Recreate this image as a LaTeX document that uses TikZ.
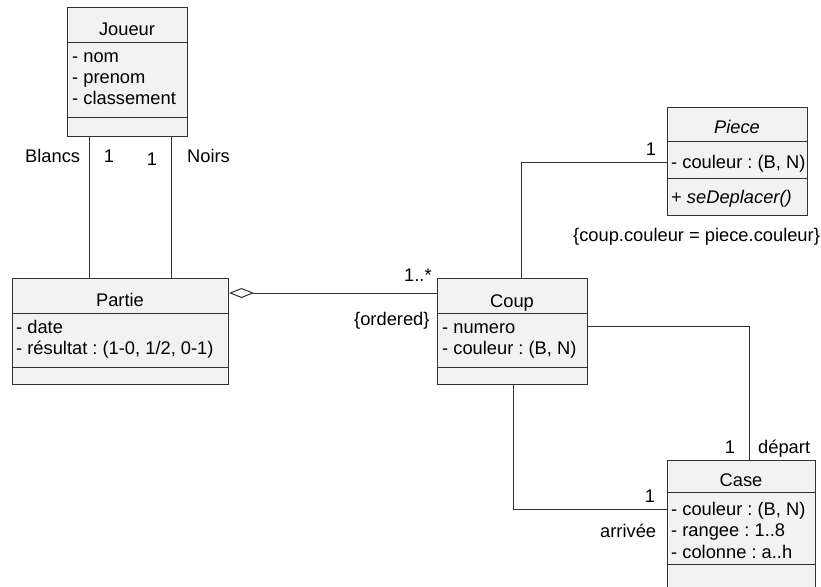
\documentclass[tikz,border=0pt]{standalone}
\usepackage{fontspec}
\setmainfont{Liberation Sans}
\frenchspacing
\usetikzlibrary{arrows.meta}
\definecolor{boxfill}{RGB}{242,242,242}
\definecolor{linecol}{RGB}{50,50,50}
\tikzset{
  cls/.style={draw=linecol, fill=boxfill, line width=1pt, anchor=north west, inner sep=0pt},
  sep/.style={draw=linecol, line width=1pt},
  conn/.style={draw=linecol, line width=1pt},
  txt/.style={inner sep=0pt, anchor=base west, font=\fontsize{18.3}{21}\selectfont},
  ctr/.style={inner sep=0pt, anchor=base, font=\fontsize{18.3}{21}\selectfont},
  agg/.style={{Diamond[open, length=25pt, width=10pt, line width=1pt]}-},
}
\begin{document}
\begin{tikzpicture}[x=1pt, y=-1pt]
\useasboundingbox (0,0) rectangle (821,586);
\clip (0,0) rectangle (821,586);

% Joueur
\node[cls, minimum width=120pt, minimum height=129pt] (joueur) at (67,7) {};
\draw[sep] ([yshift=-36pt]joueur.north west) -- ([yshift=-36pt]joueur.north east);
\draw[sep] ([yshift=-110pt]joueur.north west) -- ([yshift=-110pt]joueur.north east);
\node[ctr] (jname) at (127,36) {Joueur};
\node[txt] (ja1) at (72,62.5) {- nom};
\node[txt] (ja2) at (72,83.5) {- prenom};
\node[txt] (ja3) at (72,104.5) {- classement};

% Partie
\node[cls, minimum width=216pt, minimum height=106pt] (partie) at (12,278) {};
\draw[sep] ([yshift=-35pt]partie.north west) -- ([yshift=-35pt]partie.north east);
\draw[sep] ([yshift=-89pt]partie.north west) -- ([yshift=-89pt]partie.north east);
\node[ctr] (pname) at (120,306) {Partie};
\node[txt] (pa1) at (16,333) {- date};
\node[txt] (pa2) at (16,354) {- résultat : (1-0, 1/2, 0-1)};

% Coup
\node[cls, minimum width=150pt, minimum height=106pt] (coup) at (437,278) {};
\draw[sep] ([yshift=-35pt]coup.north west) -- ([yshift=-35pt]coup.north east);
\draw[sep] ([yshift=-89pt]coup.north west) -- ([yshift=-89pt]coup.north east);
\node[ctr] (cname) at (512,307) {Coup};
\node[txt] (ca1) at (442,333) {- numero};
\node[txt] (ca2) at (442,354) {- couleur : (B, N)};

% Piece
\node[cls, minimum width=140pt, minimum height=108pt] (piece) at (667,107) {};
\draw[sep] ([yshift=-34pt]piece.north west) -- ([yshift=-34pt]piece.north east);
\draw[sep] ([yshift=-71pt]piece.north west) -- ([yshift=-71pt]piece.north east);
\node[ctr] (piname) at (737,133) {\itshape Piece};
\node[txt] (pia1) at (671,168) {- couleur : (B, N)};
\node[txt] (pio1) at (671,203) {+ \textit{seDeplacer()}};

% Case
\node[cls, minimum width=148pt, minimum height=140pt] (case) at (667,460) {};
\draw[sep] ([yshift=-32pt]case.north west) -- ([yshift=-32pt]case.north east);
\draw[sep] ([yshift=-104pt]case.north west) -- ([yshift=-104pt]case.north east);
\node[ctr] (csname) at (741,486) {Case};
\node[txt] (csa1) at (671,515) {- couleur : (B, N)};
\node[txt] (csa2) at (671,536.5) {- rangee : 1..8};
\node[txt] (csa3) at (671,558) {- colonne : a..h};

% Connectors
\draw[conn] ([xshift=22pt]joueur.south west) -- ([xshift=77pt]partie.north west);
\draw[conn] ([xshift=104pt]joueur.south west) -- ([xshift=159pt]partie.north west);
\draw[conn, agg] ([yshift=-15pt]partie.north east) -- ([yshift=-15pt]coup.north west);
\draw[conn] ([xshift=84pt]coup.north west) |- ([yshift=-55pt]piece.north west);
\draw[conn] ([yshift=-48pt]coup.north east) -| ([xshift=82pt]case.north west);
\draw[conn] ([xshift=76pt]coup.south west) |- ([yshift=-49pt]case.north west);

% Labels
\node[txt] (lblancs) at (25,162) {Blancs};
\node[ctr] (lb1) at (109,162) {1};
\node[ctr] (ln1) at (152,165) {1};
\node[txt] (lnoirs) at (187,162) {Noirs};
\node[txt] (lmany) at (404,281) {1..*};
\node[txt] (lord) at (354,325) {\{ordered\}};
\node[ctr] (lpiece1) at (651,155) {1};
\node[txt] (lcons) at (573,241) {\{coup.couleur = piece.couleur\}};
\node[ctr] (ldep1) at (730,453) {1};
\node[txt] (ldep) at (758,453) {départ};
\node[ctr] (larr1) at (650,502) {1};
\node[txt] (larr) at (600,537) {arrivée};
\end{tikzpicture}
\end{document}
